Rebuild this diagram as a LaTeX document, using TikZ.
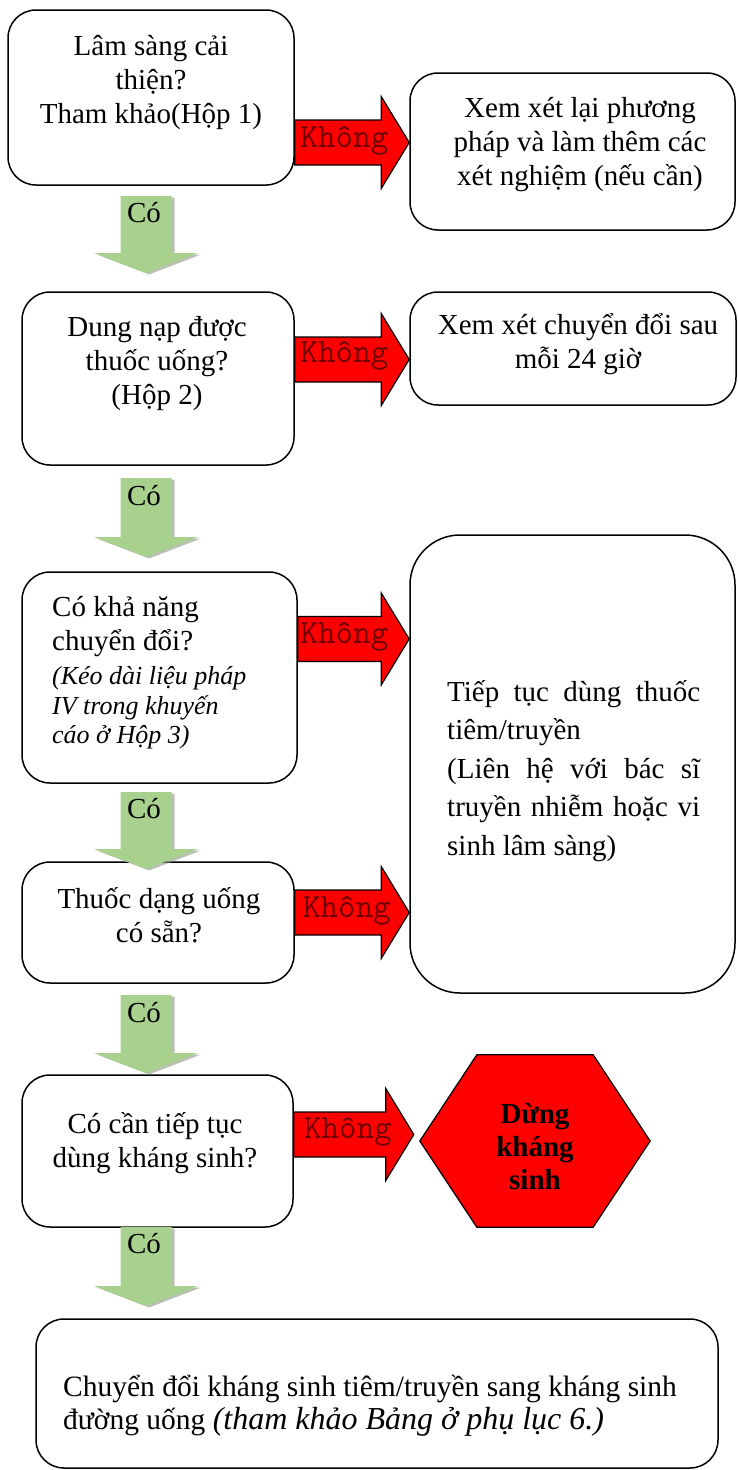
\documentclass[tikz,border=0pt]{standalone}
\usepackage{fontspec}
\setmainfont{Liberation Serif}
\usetikzlibrary{calc,positioning,shadows,backgrounds}

\definecolor{yesgreen}{RGB}{169,209,142}
\definecolor{yesshade}{RGB}{140,150,130}
\definecolor{notext}{RGB}{110,0,0}

\begin{document}
\begin{tikzpicture}[x=1pt,y=-1pt,
    box/.style={draw=black,line width=1.5pt,rounded corners=28pt,fill=white},
    txt/.style={inner sep=0pt,align=center,font=\fontsize{29}{34}\selectfont},
    nolabel/.style={inner sep=0pt,anchor=base,text=notext,font=\ttfamily\fontsize{34}{34}\selectfont},
    yeslabel/.style={inner sep=0pt,anchor=base,font=\fontsize{29}{34}\selectfont},
    noarrow/.style={draw=black,fill=red,line width=1.2pt,line join=miter,
      to path={let \p1=(\tikztostart),\p2=(\tikztotarget) in
        (\x1,\y1+22.5pt) -- (\x2-28pt,\y1+22.5pt) -- (\x2-28pt,\y1+46pt) -- (\x2,\y1)
        -- (\x2-28pt,\y1-46pt) -- (\x2-28pt,\y1-22.5pt) -- (\x1,\y1-22.5pt) -- cycle}},
    yesarrow/.style={fill=yesgreen,
      drop shadow={shadow xshift=3pt,shadow yshift=-1.5pt,fill=yesshade,opacity=.6},
      to path={let \p1=(\tikztostart),\p2=(\tikztotarget) in
        (\x1-25.5pt,\y1) -- (\x1+25.5pt,\y1) -- (\x1+25.5pt,\y2+20pt) -- (\x1+52pt,\y2+20pt)
        -- (\x1,\y2) -- (\x1-52pt,\y2+20pt) -- (\x1-25.5pt,\y2+20pt) -- cycle}}]
  \tikzstyle{stopsign}=[inner sep=0pt,align=center,minimum width=230pt,minimum height=172pt,
                        font=\bfseries\fontsize{29}{33}\selectfont]

  \useasboundingbox (0,0) rectangle (737,1470);

  % boxes
  \node[box,minimum width=286pt,minimum height=175pt] (b1) at (151,97.5) {};
  \node[box,minimum width=325pt,minimum height=157pt] (x1) at (572.5,151.5) {};
  \node[box,minimum width=272pt,minimum height=173pt] (b3) at (158,378.5) {};
  \node[box,minimum width=326pt,minimum height=113pt] (x2) at (573,348.5) {};
  \node[box,minimum width=275pt,minimum height=211pt] (b5) at (159.5,677.5) {};
  \node[box,rounded corners=50pt,minimum width=325pt,minimum height=458pt] (x3) at (572.5,764) {};
  \node[box,minimum width=272pt,minimum height=121pt] (b7) at (158,922.5) {};
  \node[box,minimum width=271pt,minimum height=152pt] (b8) at (157.5,1151) {};
  \node[box,minimum width=682pt,minimum height=149pt] (b9) at (377,1393.5) {};
  \node[stopsign] (stop) at (535,1147) {Dừng\\kháng\\sinh};
  \begin{scope}[on background layer]
    \draw[fill=red,line width=1.2pt] ([yshift=6pt]stop.west) -- ([xshift=57pt,yshift=6pt]stop.north west)
      -- ([xshift=-57pt,yshift=6pt]stop.north east) -- ([yshift=6pt]stop.east)
      -- ([xshift=-57pt,yshift=6pt]stop.south east) -- ([xshift=57pt,yshift=6pt]stop.south west) -- cycle;
  \end{scope}

  % texts
  \node[txt] (t1) at (151,82.5) {Lâm sàng cải\\thiện?\\Tham khảo(Hộp 1)};
  \node[txt] (tx1) at (580,144.5) {Xem xét lại phương\\pháp và làm thêm các\\xét nghiệm (nếu cần)};
  \node[txt] (t3) at (157,363.5) {Dung nạp được\\thuốc uống?\\(Hộp 2)};
  \node[txt] (tx2) at (578,344) {Xem xét chuyển đổi sau\\mỗi 24 giờ};
  \node[txt,align=left,anchor=west] (t5) at (52,672.5) {Có khả năng\\chuyển đổi?\\
    {\itshape\fontsize{26}{30}\selectfont (Kéo dài liệu pháp}\\[-4pt]
    {\itshape\fontsize{26}{30}\selectfont IV trong khuyến}\\[-5pt]
    {\itshape\fontsize{26}{30}\selectfont cáo ở Hộp 3)}};
  \node[txt,align=left,anchor=west,font=\fontsize{29}{38.5}\selectfont] (tx3) at (447,771)
    {\makebox[253pt][s]{Tiếp tục dùng thuốc}\\tiêm/truyền\\\makebox[253pt][s]{(Liên hệ với bác sĩ}\\
     \makebox[253pt][s]{truyền nhiễm hoặc vi}\\sinh lâm sàng)};
  \node[txt] (t7) at (159,915.5) {Thuốc dạng uống\\có sẵn?};
  \node[txt] (t8) at (155,1143) {Có cần tiếp tục\\dùng kháng sinh?};
  \node[txt,align=left,anchor=west,font=\fontsize{29.5}{33}\selectfont] (t9) at (63,1406)
    {Chuyển đổi kháng sinh tiêm/truyền sang kháng sinh\\
    đường uống {\itshape\fontsize{32}{33}\selectfont (tham khảo Bảng ở phụ lục 6.)}};

  % red arrows (no)
  \draw[noarrow] ([yshift=-45pt]b1.east) to (x1.west);
  \draw[noarrow] ([yshift=19pt]b3.east) to (x2.west);
  \draw[noarrow] ([yshift=38.5pt]b5.east) to (x3.west);
  \draw[noarrow] ([yshift=10pt]b7.east) to (x3.west);
  \draw[noarrow] ([yshift=16.5pt]b8.east) to ([xshift=-6pt]stop.west);
  \node[nolabel] (k1) at (344.5,147) {Không};
  \node[nolabel] (k2) at (344.5,362) {Không};
  \node[nolabel] (k3) at (344.5,643) {Không};
  \node[nolabel] (k4) at (347,917) {Không};
  \node[nolabel] (k5) at (348,1138) {Không};

  % green arrows (yes)
  \coordinate (y1a) at (146,196);  \coordinate (y1b) at (146,273);
  \coordinate (y2a) at (146,478);  \coordinate (y2b) at (146,557);
  \coordinate (y3a) at (146,792);  \coordinate (y3b) at (146,869);
  \coordinate (y4a) at (146,995);  \coordinate (y4b) at (146,1073);
  \coordinate (y5a) at (146,1227); \coordinate (y5b) at (146,1306);
  \path[yesarrow] (y1a) to (y1b);
  \path[yesarrow] (y2a) to (y2b);
  \path[yesarrow] (y3a) to (y3b);
  \path[yesarrow] (y4a) to (y4b);
  \path[yesarrow] (y5a) to (y5b);
  \node[yeslabel] (c1) at (144,222) {Có};
  \node[yeslabel] (c2) at (144,505) {Có};
  \node[yeslabel] (c3) at (144,818) {Có};
  \node[yeslabel] (c4) at (144,1022) {Có};
  \node[yeslabel] (c5) at (144,1253) {Có};
\end{tikzpicture}
\end{document}
